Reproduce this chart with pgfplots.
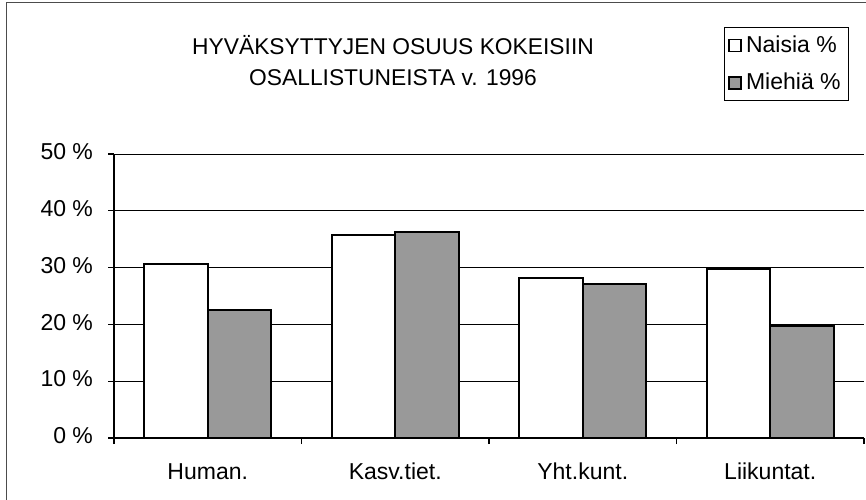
\documentclass[border=0pt]{standalone}
\usepackage{fontspec}
\setmainfont{Liberation Sans}
\usepackage{pgfplots}
\pgfplotsset{compat=1.18}

\begin{document}
\begin{tikzpicture}
\clip (-57pt,-30.5pt) rectangle (376pt,219pt);
% outer chart frame (only left and top edges are inside the picture)
\draw[black!70, line width=0.5pt] (-53.5pt,-40pt) -- (-53.5pt,217.5pt) -- (390pt,217.5pt);
\begin{axis}[
  scale only axis, width=375pt, height=142pt,
  ymin=0, ymax=50, xmin=-0.5, xmax=3.5,
  ybar=0pt, bar width=31.75pt,
  axis x line=bottom, axis y line=left,
  axis line style={-, line width=0.6pt},
  tick align=outside, major tick length=3pt,
  tick style={black, line width=0.6pt},
  ytick={0,10,...,50},
  yticklabels={0 \%,10 \%,20 \%,30 \%,40 \%,50 \%},
  yticklabel style={xshift=-4pt},
  ymajorgrids, major grid style={black, line width=0.5pt},
  xtick={-0.5,0.5,1.5,2.5,3.5}, xticklabels={},
  extra x ticks={0,1,2,3},
  extra x tick labels={Human.,Kasv.tiet.,Yht.kunt.,Liikuntat.},
  extra x tick style={major tick length=0pt, grid=none,
    tick label style={yshift=-7.5pt}},
  typeset ticklabels with strut,
  tick label style={font=\fontsize{11.5}{14}\selectfont},
  legend style={draw=black, line width=0.5pt, at={(0.8133,1.447)}, anchor=north west,
    font=\fontsize{11.5}{14}\selectfont, inner xsep=2pt, inner ysep=2pt, row sep=5pt},
  legend cell align=left,
]
\addplot[draw=black, line width=1pt, fill=white,
  legend image code/.code={\draw[black, line width=0.8pt, fill=white] (0pt,-3pt) rectangle (6pt,3pt);}]
  coordinates {(0,30.6) (1,35.7) (2,28.2) (3,29.8)};
\addplot[draw=black, line width=1pt, fill=black!40,
  legend image code/.code={\draw[black, line width=0.8pt, fill=black!40] (0pt,-3pt) rectangle (6pt,3pt);}]
  coordinates {(0,22.6) (1,36.3) (2,27.2) (3,19.8)};
\legend{Naisia \%, Miehiä \%}
\end{axis}
\node[anchor=base, font=\fontsize{11.4}{14}\selectfont] at (139.5pt,192pt) {HYVÄKSYTTYJEN OSUUS KOKEISIIN};
\node[anchor=base, font=\fontsize{11.4}{14}\selectfont] at (139.5pt,176.5pt) {OSALLISTUNEISTA v. 1996};
\end{tikzpicture}
\end{document}
